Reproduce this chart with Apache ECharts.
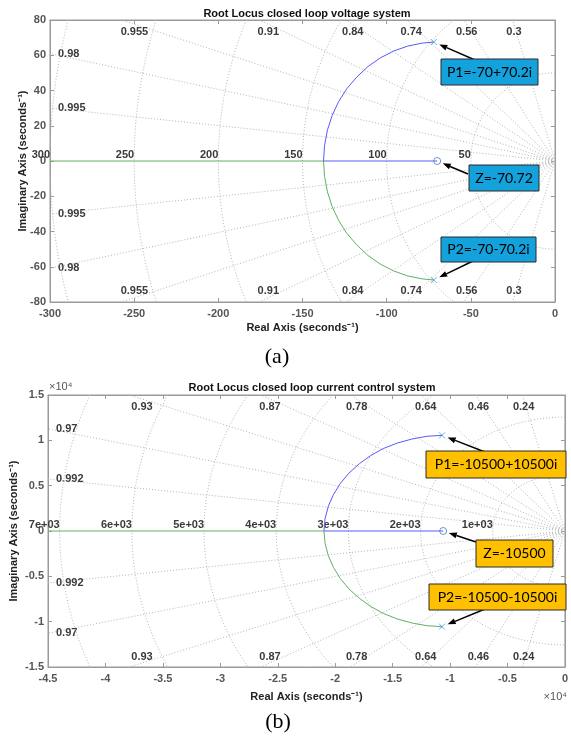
<!DOCTYPE html>
<html>
<head>
<meta charset="utf-8">
<script src="https://cdn.jsdelivr.net/npm/echarts@6/dist/echarts.min.js"></script>
<style>
  html, body { margin: 0; padding: 0; background: #fff; }
  #main { width: 571px; height: 740px; }
</style>
</head>
<body>
<div id="main"></div>
<script>
// (a) voltage system: locus branches
const vUpperX = [-72, -78.8, -87.5, -95.8, -103.8, -111.1, -117.7, -123.6, -128.5, -132.4, -135.2, -136.9, -137.5, -70];
const vUpperY = [67.5, 66.9, 65.2, 62.4, 58.5, 53.6, 47.7, 41.1, 33.8, 25.8, 17.5, 8.8, 0, 0];
const vLowerX = [-72, -78.8, -87.5, -95.8, -103.8, -111.1, -117.7, -123.6, -128.5, -132.4, -135.2, -136.9, -137.5, -300];
const vLowerY = [-67.5, -66.9, -65.2, -62.4, -58.5, -53.6, -47.7, -41.1, -33.8, -25.8, -17.5, -8.8, 0, 0];
const vPoles = [[-72, 67.5], [-72, -67.5]];
const vZero = [-70, 0];
// damping / natural frequency grid (a)
const zetaA = [0.995, 0.98, 0.955, 0.91, 0.84, 0.74, 0.56, 0.3];
const wnA = [50, 100, 150, 200, 250, 300];
const wnLabelsA = ['50', '100', '150', '200', '250', '300'];

// (b) current control system
const cUpperX = [-10700, -12000, -13300, -14600, -15800, -16900, -17900, -18800, -19550, -20150, -20600, -20880, -20980, -10600];
const cUpperY = [10550, 10450, 10150, 9700, 9100, 8330, 7420, 6390, 5250, 4020, 2720, 1370, 0, 0];
const cLowerX = [-10700, -12000, -13300, -14600, -15800, -16900, -17900, -18800, -19550, -20150, -20600, -20880, -20980, -45000];
const cLowerY = [-10550, -10450, -10150, -9700, -9100, -8330, -7420, -6390, -5250, -4020, -2720, -1370, 0, 0];
const cPoles = [[-10700, 10550], [-10700, -10550]];
const cZero = [-10600, 0];
const zetaB = [0.992, 0.97, 0.93, 0.87, 0.78, 0.64, 0.46, 0.24];
const wnB = [6283, 12566, 18850, 25133, 31416, 37699, 43982];
const wnLabelsB = ['1e+03', '2e+03', '3e+03', '4e+03', '5e+03', '6e+03', '7e+03'];

const FONT = 'Liberation Sans, Arial, sans-serif';
const AXIS_GRAY = '#9a9a9a';
const LABEL_GRAY = '#555';
const BLUE = '#5a5af5';
const GREEN = '#62b062';

function zip(xs, ys) {
  return xs.map((x, i) => [x, ys[i]]);
}

// sgrid-like dotted rays and circles
function sgrid(xi, yi, zetas, wns, wnLabels, xmin, ymax) {
  return {
    type: 'custom',
    xAxisIndex: xi,
    yAxisIndex: yi,
    silent: true,
    z: 1,
    data: [[0, 0]],
    renderItem: function (params, api) {
      const kids = [];
      const dash = { stroke: '#b4b4b4', lineWidth: 1, lineDash: [1, 2], fill: null };
      const txt = { fill: '#3a3a3a', fontSize: 11, fontWeight: 'bold', fontFamily: FONT };
      const o = api.coord([0, 0]);
      zetas.forEach(z => {
        const t = Math.sqrt(1 - z * z) / z;
        let ex, ey, left;
        if (-xmin * t <= ymax) { ex = xmin; ey = -xmin * t; left = true; }
        else { ey = ymax; ex = -ymax / t; left = false; }
        [1, -1].forEach(s => {
          const p = api.coord([ex, s * ey]);
          kids.push({ type: 'line', shape: { x1: o[0], y1: o[1], x2: p[0], y2: p[1] }, style: dash });
          let lx, ly, al;
          if (left) {
            lx = api.coord([xmin, 0])[0] + 8; ly = p[1]; al = 'left';
          } else {
            lx = api.coord([-0.97 * ymax / t, 0])[0];
            ly = api.coord([0, s * (s > 0 ? 0.915 : 0.925) * ymax])[1];
            al = 'center';
          }
          kids.push({ type: 'text', x: lx, y: ly, style: Object.assign({ text: String(z), align: al, verticalAlign: 'middle' }, txt) });
        });
      });
      wns.forEach((r, k) => {
        const ta = r > ymax ? Math.PI - Math.asin(ymax / r) : Math.PI / 2;
        const tb = r > -xmin ? Math.acos(xmin / r) : Math.PI;
        const ranges = tb >= Math.PI ? [[ta, 2 * Math.PI - ta]] : [[ta, tb], [2 * Math.PI - tb, 2 * Math.PI - ta]];
        ranges.forEach(rg => {
          if (rg[1] <= rg[0]) return;
          const pts = [];
          const n = 80;
          for (let i = 0; i <= n; i++) {
            const a = rg[0] + (rg[1] - rg[0]) * i / n;
            pts.push(api.coord([r * Math.cos(a), r * Math.sin(a)]));
          }
          kids.push({ type: 'polyline', shape: { points: pts }, style: dash });
        });
        const lp = api.coord([-r, 0]);
        kids.push({ type: 'text', x: lp[0], y: lp[1] - 1, style: Object.assign({ text: wnLabels[k], align: 'right', verticalAlign: 'bottom' }, txt) });
      });
      return { type: 'group', children: kids };
    }
  };
}

function xAxes(gi, min, max, step, fmt, gap) {
  const common = {
    gridIndex: gi, type: 'value', min: min, max: max, interval: step,
    axisLine: { onZero: false, lineStyle: { color: AXIS_GRAY } },
    axisTick: { inside: true, length: 4, lineStyle: { color: AXIS_GRAY } },
    splitLine: { show: false }
  };
  return [
    Object.assign({}, common, {
      position: 'bottom',
      name: 'Real Axis (seconds\u207B\u00B9)', nameLocation: 'middle', nameGap: gap,
      nameTextStyle: { fontFamily: FONT, fontSize: 11, fontWeight: 'bold', color: '#222' },
      axisLabel: { margin: 6, color: LABEL_GRAY, fontSize: 11, fontWeight: 'bold', fontFamily: FONT, formatter: fmt, showMinLabel: true, showMaxLabel: true }
    }),
    Object.assign({}, common, { position: 'top', axisLabel: { show: false } })
  ];
}

function yAxes(gi, min, max, step, fmt, gap) {
  const common = {
    gridIndex: gi, type: 'value', min: min, max: max, interval: step,
    axisLine: { onZero: false, lineStyle: { color: AXIS_GRAY } },
    axisTick: { inside: true, length: 4, lineStyle: { color: AXIS_GRAY } },
    splitLine: { show: false }
  };
  return [
    Object.assign({}, common, {
      position: 'left',
      name: 'Imaginary Axis (seconds\u207B\u00B9)', nameLocation: 'middle', nameGap: gap, nameRotate: 90,
      nameMoveOverlap: false,
      nameTextStyle: { fontFamily: FONT, fontSize: 11, fontWeight: 'bold', color: '#222' },
      axisLabel: { margin: 4, color: LABEL_GRAY, fontSize: 11, fontWeight: 'bold', fontFamily: FONT, formatter: fmt, showMinLabel: true, showMaxLabel: true }
    }),
    Object.assign({}, common, { position: 'right', axisLabel: { show: false } })
  ];
}

function locusSeries(xi, yi, upper, lower, poles, zero) {
  return [
    { type: 'line', xAxisIndex: xi, yAxisIndex: yi, data: upper, showSymbol: false, z: 3,
      lineStyle: { color: BLUE, width: 1 }, itemStyle: { color: BLUE } },
    { type: 'line', xAxisIndex: xi, yAxisIndex: yi, data: lower, showSymbol: false, z: 3,
      lineStyle: { color: GREEN, width: 1 }, itemStyle: { color: GREEN } },
    { type: 'scatter', xAxisIndex: xi, yAxisIndex: yi, data: poles, z: 4,
      symbol: 'path://M0,0L10,10M0,10L10,0', symbolSize: 6,
      itemStyle: { color: 'none', borderColor: '#3a9ad9', borderWidth: 1 } },
    { type: 'scatter', xAxisIndex: xi, yAxisIndex: yi, data: [zero], z: 4,
      symbol: 'circle', symbolSize: 7,
      itemStyle: { color: 'rgba(255,255,255,0)', borderColor: '#4a78c8', borderWidth: 1 } }
  ];
}

const fmtA = v => String(v);
const fmtB = v => String(v / 1e4);

const chart = echarts.init(document.getElementById('main'), null, { renderer: 'canvas' });

chart.setOption({
  animation: false,
  backgroundColor: '#fff',
  title: [
    { text: 'Root Locus closed loop voltage system', left: 302, top: 3, textAlign: 'center',
      textStyle: { fontFamily: FONT, fontSize: 11, fontWeight: 'bold', color: '#111' } },
    { text: 'Root Locus closed loop current control system', left: 307, top: 377, textAlign: 'center',
      textStyle: { fontFamily: FONT, fontSize: 11, fontWeight: 'bold', color: '#111' } }
  ],
  grid: [
    { left: 50, top: 20, width: 505, height: 282, show: true, borderColor: AXIS_GRAY, borderWidth: 1, backgroundColor: '#fff' },
    { left: 48, top: 395, width: 519, height: 272, show: true, borderColor: AXIS_GRAY, borderWidth: 1, backgroundColor: '#fff' }
  ],
  xAxis: [].concat(xAxes(0, -300, 0, 50, fmtA, 20), xAxes(1, -45000, 0, 5000, fmtB, 24)),
  yAxis: [].concat(yAxes(0, -80, 80, 20, fmtA, 22), yAxes(1, -15000, 15000, 5000, fmtB, 29)),
  series: [].concat(
    [sgrid(0, 0, zetaA, wnA, wnLabelsA, -300, 80)],
    locusSeries(0, 0, zip(vUpperX, vUpperY), zip(vLowerX, vLowerY), vPoles, vZero),
    [sgrid(2, 2, zetaB, wnB, wnLabelsB, -45000, 15000)],
    locusSeries(2, 2, zip(cUpperX, cUpperY), zip(cLowerX, cLowerY), cPoles, cZero)
  )
});

// annotation boxes and arrows
function px(gi, p) {
  return chart.convertToPixel({ xAxisIndex: gi * 2, yAxisIndex: gi * 2 }, p);
}

function arrow(from, target) {
  let dx = target[0] - from[0], dy = target[1] - from[1];
  let L = Math.hypot(dx, dy);
  const ux = dx / L, uy = dy / L;
  const to = [target[0] - ux * 6, target[1] - uy * 6];
  const hl = 8, hw = 3;
  const bx = to[0] - ux * hl, by = to[1] - uy * hl;
  return [
    { type: 'line', z: 100, shape: { x1: from[0], y1: from[1], x2: bx, y2: by }, style: { stroke: '#000', lineWidth: 1.5 } },
    { type: 'polygon', z: 100, shape: { points: [to, [bx - uy * hw, by + ux * hw], [bx + uy * hw, by - ux * hw]] }, style: { fill: '#000' } }
  ];
}

function box(b, fill) {
  return [
    { type: 'rect', z: 101, shape: { x: b.x, y: b.y, width: b.w, height: b.h }, style: { fill: fill, stroke: '#2b2b2b', lineWidth: 1 } },
    { type: 'text', z: 102, x: b.x + b.w / 2, y: b.y + b.h / 2,
      style: { text: b.text, fill: '#000', fontSize: 14, fontFamily: 'Lato, Open Sans, sans-serif', align: 'center', verticalAlign: 'middle' } }
  ];
}

const boxesA = [
  { text: 'P1=-70+70.2i', x: 441, y: 59, w: 97, h: 26, from: [475, 60], gi: 0, to: vPoles[0] },
  { text: 'Z=-70.72', x: 469, y: 165, w: 70, h: 26, from: [468, 174], gi: 0, to: vZero },
  { text: 'P2=-70-70.2i', x: 441, y: 237, w: 95, h: 25, from: [473, 261], gi: 0, to: vPoles[1] }
];
const boxesB = [
  { text: 'P1=-10500+10500i', x: 426, y: 451, w: 140, h: 27, from: [485, 452], gi: 1, to: cPoles[0] },
  { text: 'Z=-10500', x: 476, y: 540, w: 77, h: 27, from: [476, 542], gi: 1, to: cZero },
  { text: 'P2=-10500-10500i', x: 429, y: 584, w: 137, h: 26, from: [485, 609], gi: 1, to: cPoles[1] }
];

let graphics = [];
boxesA.forEach(b => { graphics = graphics.concat(arrow(b.from, px(b.gi, b.to)), box(b, '#14a2dc')); });
boxesB.forEach(b => { graphics = graphics.concat(arrow(b.from, px(b.gi, b.to)), box(b, '#ffc000')); });

graphics.push(
  { type: 'text', x: 277, y: 357, style: { text: '(a)', fill: '#000', fontSize: 22, fontFamily: 'Liberation Serif, Times New Roman, serif', align: 'center', verticalAlign: 'middle' } },
  { type: 'text', x: 278, y: 722, style: { text: '(b)', fill: '#000', fontSize: 22, fontFamily: 'Liberation Serif, Times New Roman, serif', align: 'center', verticalAlign: 'middle' } },
  { type: 'text', x: 49, y: 387, style: { text: '\u00D710\u2074', fill: LABEL_GRAY, fontSize: 11, fontFamily: FONT, align: 'left', verticalAlign: 'middle' } },
  { type: 'text', x: 567, y: 697, style: { text: '\u00D710\u2074', fill: LABEL_GRAY, fontSize: 11, fontFamily: FONT, align: 'right', verticalAlign: 'middle' } }
);

chart.setOption({ graphic: graphics });
</script>
</body>
</html>
